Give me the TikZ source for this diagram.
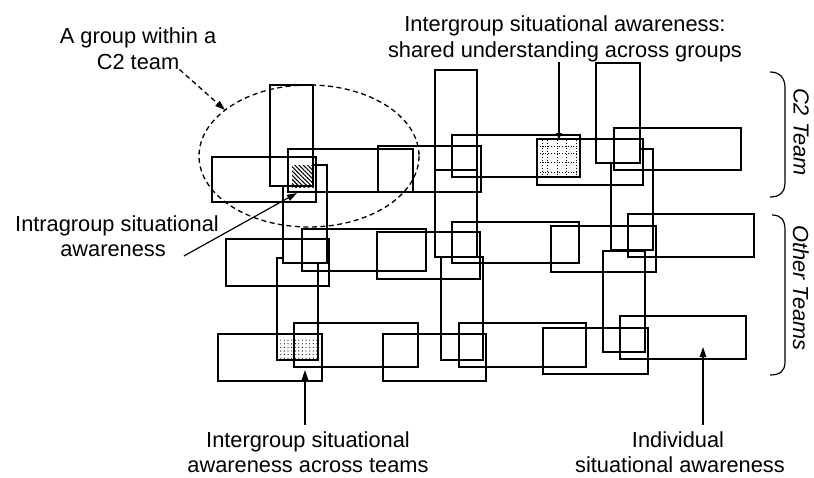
\documentclass[tikz,border=0pt]{standalone}
\usepackage{fontspec}
\setmainfont{Liberation Sans}
\usetikzlibrary{arrows.meta,patterns.meta}
\begin{document}
\begin{tikzpicture}[x=1pt,y=-1pt,
  box/.style={line width=1.3pt},
  lbl/.style={font=\fontsize{21.8}{26}\selectfont, inner sep=0pt, anchor=base},
  side/.style={font=\fontsize{21.8}{26}\selectfont\itshape, inner sep=0pt, anchor=center, rotate=-90},
  arr/.style={line width=1.2pt,-{Triangle[length=10pt,width=6.5pt]}},
  dsh/.style={line width=1.3pt,dash pattern=on 5pt off 3.5pt},
  brace/.style={line width=1.2pt}]
\useasboundingbox (0,0) rectangle (814,477);

% ---- shaded overlaps ----
\fill[pattern={Lines[angle=-45,distance=3pt,line width=1.1pt]}] (292,165) rectangle (314,187);
\fill[pattern={Dots[distance=3.6pt,radius=0.6pt]}] (277,338) rectangle (320,360);
\foreach \yy in {146,153,162,172} \draw[dotted,line width=0.8pt] (537,\yy) -- (581,\yy);
\foreach \xx in {542,547,557,566,576} \draw[dotted,line width=0.8pt] (\xx,140) -- (\xx,179);

% ---- row 1 (C2 team) ----
\draw[box] (270,85) rectangle (313,186);
\draw[box] (212,157) rectangle (316,202);
\draw[box] (288,149) rectangle (413,192);
\draw[box] (378,146) rectangle (481,192);
\draw[box] (435,70) rectangle (477,257);
\draw[box] (435,170) -- (477,170);
\draw[box] (452,135) rectangle (580,177);
\draw[box] (537,139) rectangle (643,185);
\draw[box] (596,63) rectangle (640,163);
\draw[box] (614,128) rectangle (741,170);
\draw[box] (313,165) -- (327,165) -- (327,263) -- (283,263) -- (283,187);
\draw[box] (641,149) -- (653,149) -- (653,250) -- (611,250) -- (611,163);

% ---- row 2 ----
\draw[box] (226,239) rectangle (329,286);
\draw[box] (302,229) rectangle (426,271);
\draw[box] (377,232) rectangle (480,279);
\draw[box] (452,222) rectangle (579,263);
\draw[box] (551,226) rectangle (656,272);
\draw[box] (628,214) rectangle (754,257);
\draw[box] (283,258) -- (277,258) -- (277,360) -- (318,360) -- (318,263);
\draw[box] (441,257) rectangle (483,360);
\draw[box] (603,251) rectangle (645,352);

% ---- row 3 ----
\draw[box] (218,334) rectangle (322,381);
\draw[box] (294,323) rectangle (418,367);
\draw[box] (383,334) rectangle (486,381);
\draw[box] (459,323) rectangle (586,367);
\draw[box] (543,328) rectangle (648,374);
\draw[box] (620,316) rectangle (746,359);

% ---- group ellipse ----
\draw[dsh] (309,156) ellipse [x radius=110, y radius=71];

% ---- labels ----
\node[lbl] (g1) at (138,43) {A group within a};
\node[lbl] (g2) at (138,69) {C2 team};
\node[lbl] (s1) at (565,31) {Intergroup situational awareness:};
\node[lbl] (s2) at (565,57) {shared understanding across groups};
\node[lbl] (i1) at (117,231) {Intragroup situational};
\node[lbl] (i2) at (113,256) {awareness};
\node[lbl] (b1) at (308,447) {Intergroup situational};
\node[lbl] (b2) at (308,472) {awareness across teams};
\node[lbl] (d1) at (678,447) {Individual};
\node[lbl] (d2) at (680,472) {situational awareness};
\node[side] (c2t) at (801,132) {C2 Team};
\node[side] (ott) at (801,288) {Other Teams};

% ---- arrow targets ----
\coordinate (ga) at (225,110);
\coordinate (ia) at (297,193);
\coordinate (sa) at (559,139);
\coordinate (ba) at (305,370);
\coordinate (da) at (703,347);

\draw[dsh,-{Triangle[length=10pt,width=6.5pt]}] (g2.south east) -- (ga);
\draw[arr] ([xshift=18pt]i2.base east) -- (ia);
\draw[line width=1.2pt,-{Triangle[length=6pt,width=6pt]}] (s2.south -| sa) -- (sa);
\draw[arr] ([yshift=6pt]b1.north -| ba) -- (ba);
\draw[arr] ([yshift=6pt]d1.north -| da) -- (da);

% ---- team brackets ----
\draw[brace] (770,72) .. controls (780,72) and (785,78) .. (785,88) -- (785,182) .. controls (785,192) and (780,197) .. (770,197);
\draw[brace] (772,215) .. controls (781,215) and (785,220) .. (785,230) -- (785,362) .. controls (785,371) and (780,375) .. (770,375);
\end{tikzpicture}
\end{document}
